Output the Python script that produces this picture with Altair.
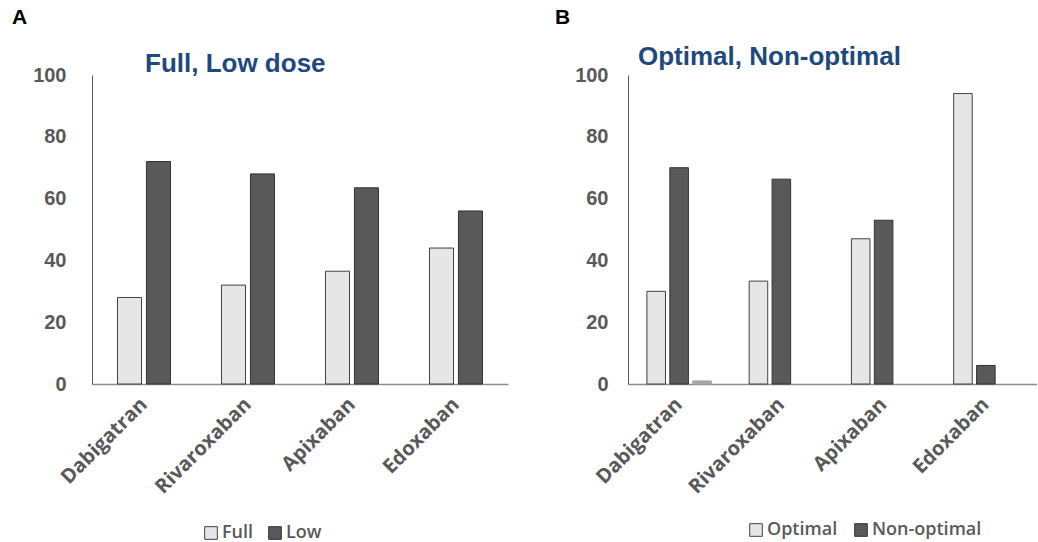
import altair as alt
import pandas as pd

drugs = ["Dabigatran", "Rivaroxaban", "Apixaban", "Edoxaban"]
full_dose = [28, 32, 36.5, 44]
low_dose = [72, 68, 63.5, 56]
optimal = [30, 33.3, 47, 94]
non_optimal = [70, 66.3, 53, 6]
other = [1, 0, 0, 0]

series_a = ["Full", "Low"]
series_b = ["Optimal", "Non-optimal", "Other"]

df_a = pd.DataFrame({
    "drug": drugs * 2,
    "series": [series_a[0]] * 4 + [series_a[1]] * 4,
    "value": full_dose + low_dose,
})
df_b = pd.DataFrame({
    "drug": drugs * 3,
    "series": [series_b[0]] * 4 + [series_b[1]] * 4 + [series_b[2]] * 4,
    "value": optimal + non_optimal + other,
})

GREY = "#595959"
BLUE = "#1F497D"
HEIGHT = 309


def make_panel(df, series_dom, fills, strokes, legend_vals, width,
               pad_in, pad_out, group_w, off_pad, ylabpad,
               letter, letter_x, heading, heading_x, heading_y,
               leg_x, leg_y, leg_colpad):
    bars = alt.Chart(df).transform_filter("datum.value > 0").mark_bar(strokeWidth=1).encode(
        x=alt.X("drug:N", sort=drugs, title=None,
                scale=alt.Scale(paddingInner=pad_in, paddingOuter=pad_out),
                axis=alt.Axis(labelAngle=-45, labelAlign="right", labelBaseline="middle",
                              labelPadding=17, labelFont="Open Sans", labelFontSize=20,
                              labelFontWeight="bold", labelColor=GREY, ticks=False,
                              domainColor="#8c8c8c", domainWidth=1.5, labelOverlap=False)),
        xOffset=alt.XOffset("series:N",
                            scale=alt.Scale(domain=series_dom, range=[0, group_w],
                                            paddingInner=off_pad, paddingOuter=0)),
        y=alt.Y("value:Q", title=None,
                scale=alt.Scale(domain=[0, 100], nice=False),
                axis=alt.Axis(values=[0, 20, 40, 60, 80, 100], grid=False, ticks=False,
                              domainColor=GREY, labelFont="Liberation Sans", labelFontSize=20,
                              labelFontWeight="bold", labelColor=GREY, labelPadding=ylabpad)),
        color=alt.Color("series:N", scale=alt.Scale(domain=series_dom, range=fills),
                        legend=alt.Legend(values=legend_vals, title=None, orient="none",
                                          legendX=leg_x, legendY=leg_y, direction="horizontal",
                                          symbolType="square", symbolSize=160,
                                          symbolStrokeColor="#404040", symbolStrokeWidth=1,
                                          labelFont="Open Sans", labelFontSize=18,
                                          labelFontWeight=600, labelColor=GREY,
                                          columnPadding=leg_colpad, labelOffset=2)),
        stroke=alt.Stroke("series:N", scale=alt.Scale(domain=series_dom, range=strokes), legend=None),
    )
    letter_txt = alt.Chart(pd.DataFrame({"t": [letter]})).mark_text(
        align="left", baseline="top", font="Liberation Sans", fontSize=21,
        fontWeight="bold", color="black",
    ).encode(text="t:N", x=alt.value(letter_x), y=alt.value(-68))
    heading_txt = alt.Chart(pd.DataFrame({"t": [heading]})).mark_text(
        align="left", baseline="alphabetic", font="Liberation Sans", fontSize=26,
        fontWeight="bold", color=BLUE,
    ).encode(text="t:N", x=alt.value(heading_x), y=alt.value(heading_y))
    return alt.layer(bars, letter_txt, heading_txt).properties(width=width, height=HEIGHT)


panel_a = make_panel(df_a, series_a, ["#e6e6e6", "#595959"], ["#404040", "#333333"],
                     series_a, 416, 0.49, 0.245, 53, 0.17, 26,
                     "A", -80, "Full, Low dose", 53, -3,
                     110, 449, 12)
panel_b = make_panel(df_b, series_b, ["#e6e6e6", "#595959", "#a6a6a6"],
                     ["#404040", "#333333", "#a6a6a6"],
                     ["Optimal", "Non-optimal"], 409, 0.37, 0.185, 64.4, 0.19, 20,
                     "B", -73, "Optimal, Non-optimal", 10, -10,
                     119, 446, 14)

chart = alt.hconcat(panel_a, panel_b, spacing=47).resolve_scale(
    color="independent", stroke="independent", x="independent", y="independent",
    xOffset="independent",
).resolve_legend(color="independent").properties(
    padding={"left": 12, "top": 7, "right": 0, "bottom": 0},
    background="white",
).configure_view(stroke=None)

chart.save("out.html", embed_options={"renderer": "svg", "actions": False})
